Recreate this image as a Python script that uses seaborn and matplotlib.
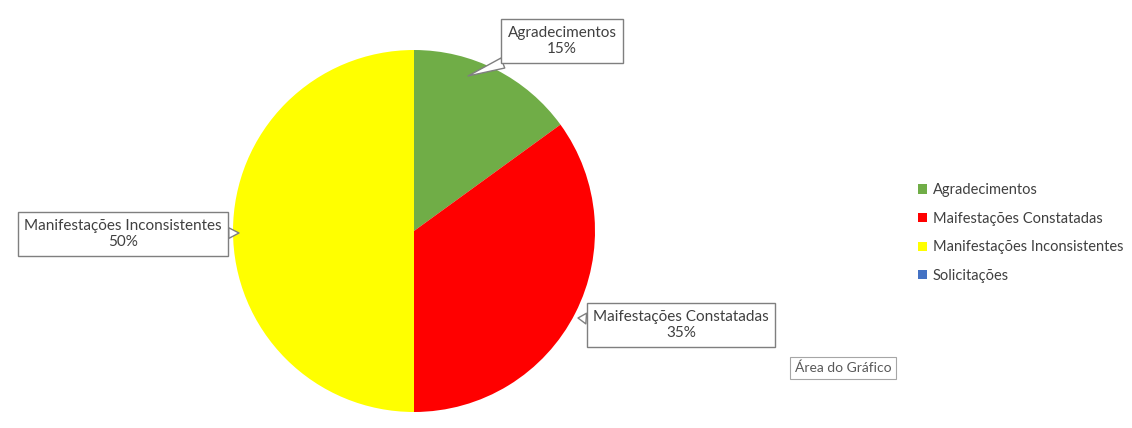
import matplotlib
matplotlib.use("Agg")
import matplotlib.pyplot as plt
import seaborn as sns
from matplotlib.patches import Patch

categories = ["Agradecimentos", "Maifestações Constatadas", "Manifestações Inconsistentes", "Solicitações"]
values = [15, 35, 50, 0]
colors = ["#70AD47", "#FF0000", "#FFFF00", "#4472C4"]
pct_labels = ["15%", "35%", "50%", ""]

sns.set_theme(style="white")
plt.rcParams["font.family"] = ["Lato", "DejaVu Sans"]

W, H = 1132, 428
fig = plt.figure(figsize=(W / 100, H / 100), dpi=100)
cx, cy, r = 414, 231, 181
ax = fig.add_axes([(cx - r) / W, (H - cy - r) / H, 2 * r / W, 2 * r / H])

wedges, _ = ax.pie(values, colors=colors, startangle=90, counterclock=False,
                   radius=1, wedgeprops=dict(linewidth=0))
ax.set_xlim(-1, 1)
ax.set_ylim(-1, 1)
ax.set_aspect("equal")
ax.axis("off")

def px(x, y):
    return ((x - cx) / r, (cy - y) / r)

label_pos = {0: (562, 41), 1: (681, 325), 2: (123, 234)}
tip_pos = {0: (468, 76), 1: (578, 318), 2: (239, 233)}
for i, (tx, ty) in label_pos.items():
    ax.annotate(f"{categories[i]}\n{pct_labels[i]}",
                xy=px(*tip_pos[i]), xytext=px(tx, ty),
                ha="center", va="center", fontsize=11, color="#404040",
                linespacing=1.2,
                bbox=dict(boxstyle="square,pad=0.42", fc="white", ec="#7f7f7f", lw=1),
                arrowprops=dict(arrowstyle="wedge,tail_width=0.7,shrink_factor=0.5",
                                fc="white", ec="#7f7f7f", lw=1,
                                shrinkA=0, shrinkB=0),
                annotation_clip=False)

handles = [Patch(facecolor=c, edgecolor="none") for c in colors]
fig.legend(handles, categories, loc="upper left", bbox_to_anchor=(905 / W, 1 - 170 / H),
           frameon=False, fontsize=10.5, handlelength=0.6, handleheight=0.6,
           handletextpad=0.4, labelspacing=1.0, labelcolor="#404040")

fig.text(843 / W, 1 - 368 / H, "Área do Gráfico", ha="center", va="center",
         fontsize=10, color="#595959",
         bbox=dict(boxstyle="square,pad=0.35", fc="white", ec="#a6a6a6", lw=0.8))

fig.savefig("out.png", dpi=100)
